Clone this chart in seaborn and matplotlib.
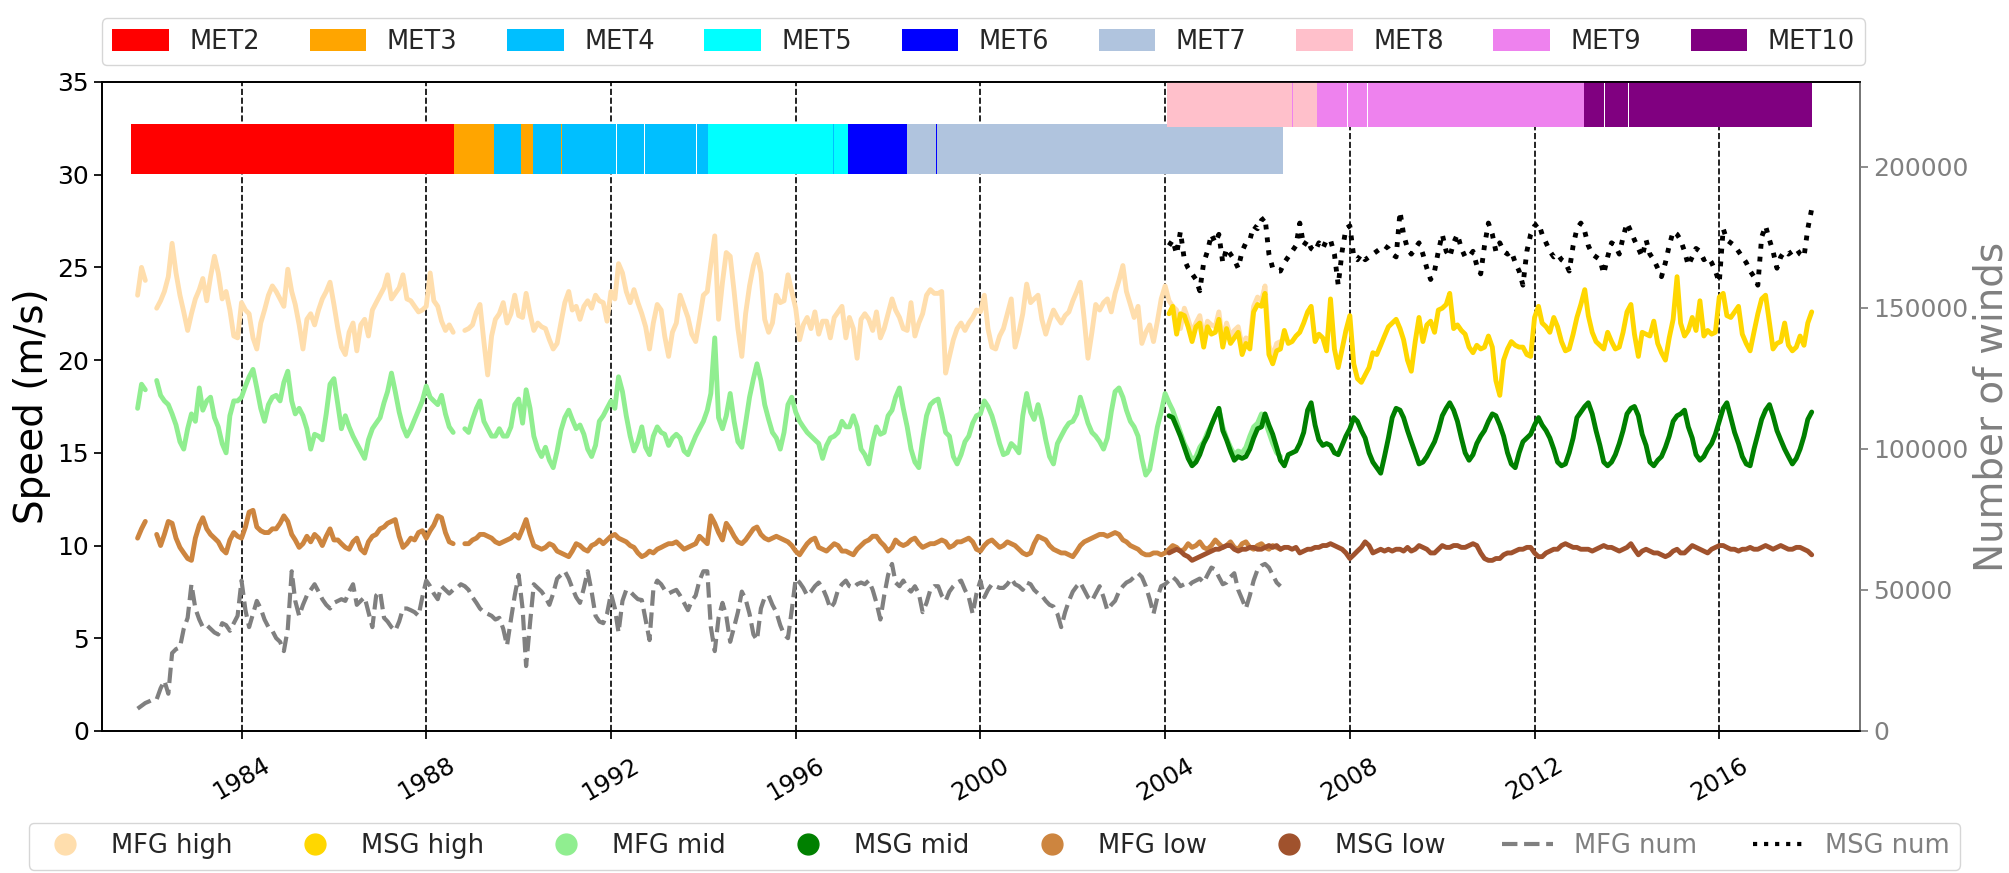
import numpy as np
import pandas as pd
import matplotlib
matplotlib.use("Agg")
import matplotlib.pyplot as plt
import matplotlib.dates as mdates
from matplotlib.patches import Patch
from matplotlib.lines import Line2D
import seaborn as sns

nan = np.nan

# ---------------- data ----------------
# satellite periods (decimal years) and the programme they belong to
sat_names = ["MET2", "MET3", "MET4", "MET3", "MET4", "MET3", "MET4", "MET4", "MET4", "MET4",
             "MET5", "MET4", "MET5", "MET6", "MET7", "MET6", "MET7",
             "MET8", "MET9", "MET8", "MET9", "MET9", "MET9", "MET9", "MET10", "MET10", "MET10"]
sat_start = [1981.61, 1988.61, 1989.47, 1990.06, 1990.30, 1990.91, 1990.93, 1992.14, 1992.73, 1993.87,
             1994.10, 1996.81, 1996.83, 1997.13, 1998.42, 1999.04, 1999.06,
             2004.04, 2006.74, 2006.76, 2007.29, 2007.95, 2008.39, 2009.31, 2013.07, 2013.53, 2014.04]
sat_end = [1988.61, 1989.47, 1990.06, 1990.30, 1990.91, 1990.93, 1992.12, 1992.71, 1993.85, 1994.10,
           1996.81, 1996.83, 1997.13, 1998.42, 1999.04, 1999.06, 2006.55,
           2006.74, 2006.76, 2007.29, 2007.93, 2008.37, 2009.29, 2013.07, 2013.51, 2014.02, 2018.00]
sat_prog = ["MFG"] * 17 + ["MSG"] * 10

# monthly series, MFG from Oct 1981, MSG from Feb 2004
mfg_start = "1981-10-01"
msg_start = "2004-02-01"

mfg_high = [23.5, 25.0, 24.3, nan, nan, 22.8, 23.2, 23.7, 24.5, 26.3,
            24.7, 23.5, 22.6, 21.6, 22.5, 23.3, 23.8, 24.4, 23.2, 24.5,
            25.6, 24.7, 23.3, 23.7, 22.7, 21.3, 21.2, 23.1, 22.7, 22.5,
            21.2, 20.6, 22.0, 22.7, 23.5, 24.0, 23.7, 23.3, 22.9, 24.9,
            23.7, 23.0, 21.9, 20.6, 22.2, 22.5, 21.9, 22.7, 23.3, 23.7,
            24.2, 23.0, 21.7, 20.7, 20.3, 21.5, 22.0, 20.5, 21.9, 22.2,
            21.3, 22.7, 23.1, 23.5, 23.9, 24.6, 23.3, 23.6, 23.9, 24.6,
            23.3, 23.2, 22.9, 22.6, 22.7, 22.9, 24.7, 23.2, 22.9, 22.1,
            21.6, 21.9, 21.5, nan, nan, 21.6, 21.7, 21.9, 22.6, 23.0,
            21.0, 19.2, 21.3, 22.2, 22.5, 23.1, 22.0, 22.5, 23.5, 22.4,
            22.3, 23.6, 22.5, 21.6, 22.0, 21.8, 21.7, 21.1, 20.6, 20.9,
            22.0, 23.1, 23.7, 22.7, 22.9, 22.2, 22.9, 23.2, 22.8, 23.5,
            23.2, 23.1, 22.1, 23.7, 23.3, 25.2, 24.7, 23.7, 23.1, 23.8,
            23.1, 22.5, 21.8, 20.6, 22.0, 23.0, 22.7, 21.3, 20.2, 21.5,
            22.0, 23.5, 22.9, 22.3, 21.4, 21.0, 22.2, 23.5, 23.7, 25.2,
            26.7, 22.2, 24.2, 25.8, 25.6, 23.7, 21.7, 20.2, 22.5, 24.0,
            25.1, 25.7, 24.7, 22.2, 21.5, 22.0, 23.5, 23.1, 23.2, 24.6,
            23.7, 22.8, 21.1, 21.9, 22.3, 21.7, 22.6, 21.4, 22.1, 22.1,
            21.2, 22.3, 22.6, 22.9, 21.2, 22.3, 21.7, 20.1, 22.2, 22.5,
            22.2, 21.6, 22.6, 21.2, 21.7, 22.5, 23.3, 22.7, 22.3, 21.7,
            21.6, 23.1, 21.3, 22.0, 22.5, 23.5, 23.8, 23.6, 23.6, 23.7,
            19.3, 20.2, 21.1, 21.7, 22.0, 21.6, 22.0, 22.3, 22.7, 22.6,
            23.5, 21.7, 20.7, 20.6, 21.3, 21.7, 22.5, 23.3, 20.7, 21.5,
            22.5, 24.1, 23.1, 23.3, 23.5, 22.2, 21.4, 22.1, 22.7, 22.3,
            22.0, 22.4, 22.6, 23.2, 23.7, 24.2, 22.2, 20.1, 21.5, 23.0,
            22.7, 23.1, 23.3, 22.6, 23.6, 24.3, 25.1, 23.7, 23.0, 22.3,
            22.9, 20.9, 21.5, 21.9, 21.0, 22.1, 23.3, 24.0, 23.2, 22.9,
            22.7, 21.7, 22.8, 22.2, 21.5, 22.0, 22.4, 21.2, 22.1, 21.9,
            21.8, 22.6, 21.0, 22.0, 21.3, 21.6, 21.8, 20.8, 21.2, 21.0,
            22.9, 23.4, 23.2, 24.0, 20.8, 20.2, 20.9, 21.0]

mfg_mid = [17.4, 18.7, 18.4, nan, nan, 18.9, 18.1, 17.8, 17.6, 17.1,
           16.5, 15.6, 15.2, 16.3, 17.1, 16.7, 18.5, 17.3, 17.8, 18.0,
           16.9, 16.4, 15.5, 15.0, 17.0, 17.8, 17.8, 18.0, 18.6, 19.1,
           19.5, 18.5, 17.4, 16.7, 17.6, 18.0, 18.1, 17.8, 18.8, 19.4,
           17.8, 17.1, 17.4, 17.0, 16.3, 15.2, 16.0, 15.9, 15.7, 17.1,
           18.7, 19.0, 17.6, 16.3, 17.0, 16.4, 15.9, 15.5, 15.1, 14.7,
           15.7, 16.3, 16.6, 16.9, 17.7, 18.3, 19.3, 18.3, 17.2, 16.4,
           15.9, 16.3, 16.8, 17.3, 17.8, 18.6, 18.0, 17.8, 17.6, 18.1,
           17.1, 16.4, 16.1, nan, nan, 16.3, 16.1, 16.8, 17.4, 17.8,
           16.7, 16.3, 15.9, 15.9, 16.3, 15.9, 15.9, 16.4, 17.6, 17.9,
           16.6, 18.4, 17.4, 15.9, 15.2, 14.8, 15.3, 14.6, 14.2, 15.1,
           16.2, 16.9, 17.3, 16.8, 16.3, 16.5, 16.0, 15.2, 14.8, 15.4,
           16.7, 17.0, 17.4, 17.8, 17.4, 19.1, 18.3, 17.0, 15.9, 15.1,
           15.6, 16.4, 15.3, 14.9, 15.9, 16.4, 16.1, 16.0, 15.4, 15.8,
           16.0, 15.8, 15.1, 14.9, 15.4, 15.9, 16.3, 16.7, 17.3, 18.2,
           21.2, 16.9, 16.3, 17.0, 18.2, 16.7, 15.6, 15.3, 16.6, 18.0,
           19.0, 19.8, 18.9, 17.6, 16.8, 16.1, 15.8, 15.2, 16.1, 17.6,
           18.0, 17.2, 16.7, 16.4, 16.1, 15.9, 15.7, 15.5, 14.7, 15.4,
           15.8, 15.9, 16.1, 16.7, 16.4, 16.4, 17.0, 16.4, 15.2, 14.9,
           14.4, 15.6, 16.4, 16.0, 16.1, 17.0, 17.3, 18.0, 18.5, 17.4,
           16.4, 15.2, 14.5, 14.2, 15.7, 17.0, 17.6, 17.8, 17.9, 17.1,
           16.1, 15.9, 14.8, 14.4, 14.9, 15.6, 15.9, 16.6, 17.0, 17.1,
           17.8, 17.5, 17.0, 16.3, 15.5, 14.9, 15.0, 15.5, 15.3, 15.0,
           17.0, 18.2, 17.2, 16.8, 17.6, 16.8, 15.7, 14.8, 14.4, 15.5,
           15.9, 16.3, 16.6, 16.7, 17.1, 18.0, 17.3, 16.6, 16.1, 15.9,
           15.6, 15.2, 15.8, 17.2, 18.3, 18.5, 18.0, 17.3, 16.7, 16.4,
           15.9, 14.7, 13.8, 14.1, 15.2, 16.4, 17.2, 18.2, 17.7, 17.3,
           16.7, 16.1, 15.5, 15.1, 14.6, 14.8, 15.3, 15.6, 16.1, 16.5,
           17.0, 17.4, 16.4, 15.8, 15.3, 14.9, 15.1, 15.0, 15.3, 15.9,
           16.4, 16.6, 17.1, 16.7, 16.1, 15.5, 15.0, 14.8]

mfg_low = [10.4, 10.9, 11.3, nan, nan, 10.6, 10.0, 10.6, 11.3, 11.2,
           10.4, 9.9, 9.6, 9.3, 9.2, 10.4, 11.1, 11.5, 10.9, 10.6,
           10.4, 10.2, 9.8, 9.6, 10.3, 10.7, 10.5, 10.4, 11.0, 11.8,
           11.9, 11.0, 10.8, 10.7, 10.7, 10.9, 10.9, 11.2, 11.6, 11.3,
           10.6, 10.3, 9.9, 10.1, 10.5, 10.2, 10.6, 10.4, 10.0, 10.5,
           10.9, 10.3, 10.3, 10.1, 9.9, 9.8, 10.2, 10.4, 9.8, 9.6,
           10.2, 10.5, 10.6, 10.9, 11.0, 11.2, 11.3, 11.4, 10.5, 9.9,
           10.1, 10.4, 10.3, 10.7, 10.8, 10.4, 10.8, 11.1, 11.6, 11.5,
           10.7, 10.2, 10.1, nan, nan, 10.1, 10.1, 10.3, 10.4, 10.6,
           10.6, 10.5, 10.4, 10.2, 10.1, 10.2, 10.3, 10.4, 10.6, 10.4,
           10.9, 11.4, 10.6, 10.0, 9.9, 9.8, 9.9, 10.1, 10.0, 9.7,
           9.6, 9.5, 9.4, 9.7, 10.1, 10.0, 9.8, 9.7, 10.0, 10.1,
           10.3, 10.1, 10.3, 10.5, 10.6, 10.4, 10.3, 10.2, 10.0, 9.9,
           9.6, 9.4, 9.5, 9.7, 9.6, 9.8, 9.9, 10.0, 10.1, 10.1,
           10.2, 10.0, 9.8, 9.9, 10.0, 10.1, 10.5, 10.3, 10.1, 11.6,
           11.2, 10.7, 10.3, 11.2, 10.9, 10.5, 10.2, 10.1, 10.3, 10.6,
           10.9, 11.0, 10.6, 10.4, 10.3, 10.4, 10.5, 10.4, 10.3, 10.2,
           10.0, 9.7, 9.5, 9.8, 10.1, 10.3, 10.4, 9.9, 9.8, 9.7,
           9.9, 10.1, 10.0, 9.7, 9.7, 9.6, 9.5, 9.8, 10.0, 10.2,
           10.3, 10.5, 10.5, 10.2, 10.0, 9.7, 9.9, 10.3, 10.1, 10.0,
           10.1, 10.3, 10.4, 10.1, 9.9, 10.0, 10.1, 10.1, 10.2, 10.3,
           10.2, 9.9, 10.0, 10.2, 10.2, 10.3, 10.4, 10.2, 9.8, 9.7,
           10.0, 10.2, 10.3, 10.1, 9.9, 10.0, 10.2, 10.1, 10.0, 9.8,
           9.6, 9.5, 9.6, 10.1, 10.5, 10.4, 10.3, 10.0, 9.8, 9.7,
           9.6, 9.6, 9.5, 9.4, 9.7, 10.0, 10.2, 10.3, 10.4, 10.5,
           10.6, 10.6, 10.5, 10.6, 10.7, 10.6, 10.3, 10.2, 10.0, 9.9,
           9.8, 9.6, 9.5, 9.5, 9.6, 9.6, 9.5, 9.6, 9.8, 10.0,
           9.9, 9.7, 9.8, 10.1, 9.9, 10.0, 10.2, 9.9, 9.8, 10.0,
           10.3, 10.1, 9.9, 10.0, 10.2, 9.9, 9.8, 10.1, 10.2, 9.9,
           9.8, 10.0, 10.1, 9.9, 9.8, 10.0, 9.9, 9.8]

# number of winds, thousands
mfg_num = [7.9, 8.9, 9.9, 10.5, 11.2, 11.2, 15.1, 17.8, 13.2, 27.6,
           29.0, 29.6, 36.2, 40.1, 52.0, 43.4, 39.5, 36.8, 37.5, 36.2,
           34.9, 34.2, 38.2, 37.5, 35.5, 38.2, 40.8, 53.3, 42.8, 36.8,
           41.5, 46.1, 43.4, 39.5, 36.8, 35.5, 32.9, 31.6, 28.3, 36.2,
           56.6, 46.1, 40.8, 44.7, 48.0, 50.0, 52.0, 49.4, 46.7, 44.7,
           43.4, 45.4, 46.1, 46.7, 46.1, 49.4, 52.0, 44.7, 46.1, 47.4,
           42.1, 36.8, 48.0, 49.4, 40.1, 38.8, 36.8, 35.5, 38.8, 43.4,
           43.4, 42.8, 42.1, 40.8, 47.4, 53.3, 51.3, 48.7, 46.7, 51.3,
           50.0, 48.7, 50.0, 50.7, 52.0, 51.3, 50.0, 47.4, 45.4, 43.4,
           42.1, 41.5, 40.8, 39.5, 40.1, 36.2, 30.3, 39.5, 48.0, 55.3,
           43.4, 23.0, 38.2, 52.0, 50.7, 49.4, 47.4, 44.7, 48.7, 54.0,
           55.3, 56.6, 54.0, 50.7, 47.4, 45.4, 50.7, 56.6, 49.4, 40.8,
           38.8, 38.2, 41.5, 48.7, 43.4, 34.9, 46.1, 50.0, 49.4, 48.0,
           46.7, 46.4, 39.5, 32.2, 50.0, 53.3, 52.0, 50.0, 48.7, 49.4,
           50.0, 48.0, 45.4, 42.8, 46.1, 48.0, 53.3, 56.6, 56.6, 36.8,
           28.3, 40.1, 45.4, 40.8, 31.6, 36.8, 42.1, 49.4, 46.7, 41.5,
           34.2, 32.2, 43.4, 47.4, 48.0, 44.7, 42.1, 37.5, 34.2, 32.9,
           42.8, 54.0, 52.6, 50.7, 48.0, 49.4, 51.3, 52.6, 50.7, 47.4,
           43.4, 45.4, 50.0, 52.0, 53.3, 51.3, 50.7, 52.0, 52.6, 52.0,
           53.3, 50.0, 45.4, 39.5, 48.0, 55.3, 59.2, 52.6, 51.3, 53.3,
           50.7, 49.4, 51.3, 48.7, 42.1, 45.4, 50.0, 51.3, 51.3, 48.0,
           46.1, 49.4, 51.3, 52.6, 53.3, 50.0, 47.4, 41.5, 48.7, 53.3,
           47.4, 50.0, 52.0, 51.3, 50.7, 50.7, 52.0, 54.0, 52.0, 51.3,
           50.0, 52.6, 52.0, 50.0, 48.7, 48.0, 46.1, 44.7, 44.1, 41.5,
           36.8, 42.1, 46.1, 49.4, 51.3, 52.6, 50.0, 47.4, 46.1, 48.7,
           51.3, 47.4, 42.8, 44.7, 46.1, 49.4, 51.3, 52.6, 53.3, 54.6,
           55.9, 54.6, 51.3, 46.7, 41.5, 47.4, 51.3, 52.0, 53.3, 54.6,
           53.3, 51.3, 52.0, 51.3, 52.6, 53.3, 54.0, 52.6, 55.3, 57.9,
           57.2, 54.6, 52.0, 52.6, 54.6, 55.9, 50.0, 46.7, 43.4, 48.0,
           53.3, 57.2, 58.6, 59.2, 57.9, 55.3, 52.6, 51.3]

msg_high = [22.5, 22.9, 21.4, 22.5, 22.4, 21.8, 21.0, 21.8, 22.0, 20.7,
            21.8, 21.4, 21.5, 22.2, 20.7, 21.7, 20.9, 21.2, 21.5, 20.3,
            20.9, 20.6, 22.6, 23.0, 22.9, 23.6, 20.3, 19.8, 20.5, 20.6,
            21.6, 20.9, 21.0, 21.3, 21.5, 22.0, 22.6, 22.9, 21.0, 21.4,
            21.2, 20.5, 23.3, 20.6, 19.6, 20.6, 21.6, 22.4, 19.8, 19.0,
            18.8, 19.2, 19.6, 20.4, 20.3, 20.8, 21.3, 21.8, 22.0, 22.2,
            21.7, 21.1, 20.0, 19.4, 21.0, 22.3, 21.0, 21.9, 22.1, 21.5,
            22.7, 22.8, 23.0, 23.6, 21.7, 21.9, 21.6, 21.4, 20.7, 20.4,
            20.8, 20.6, 20.7, 21.3, 20.7, 18.9, 18.1, 20.0, 20.6, 21.0,
            20.8, 20.7, 20.7, 20.3, 20.2, 22.3, 22.9, 22.0, 21.8, 21.5,
            22.3, 21.8, 21.0, 20.5, 20.6, 21.4, 22.3, 23.0, 23.8, 22.4,
            21.5, 21.0, 20.8, 20.6, 21.5, 21.0, 20.6, 20.7, 21.5, 22.6,
            23.0, 21.4, 20.2, 21.5, 21.4, 21.3, 22.1, 20.9, 20.4, 20.0,
            21.2, 22.2, 24.5, 22.0, 21.3, 21.6, 22.3, 21.6, 23.2, 21.3,
            21.6, 21.4, 21.5, 23.4, 23.6, 22.4, 22.3, 22.6, 22.9, 21.4,
            20.9, 20.5, 21.5, 22.5, 23.3, 23.5, 22.0, 20.6, 20.9, 21.0,
            22.0, 20.8, 20.5, 20.7, 21.3, 20.8, 22.0, 22.6]

msg_mid = [17.0, 16.9, 16.4, 15.9, 15.3, 14.7, 14.3, 14.5, 14.9, 15.5,
           15.9, 16.5, 17.0, 17.4, 16.2, 15.7, 15.1, 14.6, 14.8, 14.7,
           14.8, 15.2, 15.8, 16.3, 16.4, 17.1, 16.5, 16.0, 15.3, 14.6,
           14.3, 14.9, 15.0, 15.1, 15.5, 16.1, 17.3, 17.7, 16.5, 15.7,
           15.4, 15.5, 15.4, 15.0, 14.9, 15.4, 15.9, 16.3, 16.9, 16.7,
           16.2, 15.8, 15.0, 14.5, 14.2, 13.9, 14.8, 15.8, 16.9, 17.4,
           17.3, 16.9, 16.2, 15.6, 15.0, 14.4, 14.5, 14.8, 15.2, 15.6,
           16.2, 17.0, 17.4, 17.7, 17.3, 16.7, 15.8, 15.0, 14.6, 14.9,
           15.5, 15.9, 16.2, 16.7, 17.1, 17.0, 16.5, 15.9, 15.0, 14.4,
           14.2, 15.0, 15.6, 15.8, 16.0, 16.5, 16.9, 16.5, 16.2, 15.8,
           15.2, 14.5, 14.3, 14.4, 15.0, 15.8, 16.9, 17.2, 17.5, 17.7,
           17.1, 16.2, 15.4, 14.5, 14.3, 14.5, 14.9, 15.5, 16.2, 17.1,
           17.4, 17.5, 17.0, 16.0, 15.4, 14.5, 14.3, 14.6, 14.8, 15.3,
           15.9, 16.7, 17.0, 17.1, 17.3, 16.4, 15.8, 14.9, 14.6, 14.8,
           15.2, 15.5, 16.0, 16.7, 17.4, 17.7, 16.9, 16.1, 15.5, 14.8,
           14.4, 14.3, 15.2, 16.0, 16.8, 17.3, 17.6, 17.0, 16.2, 15.7,
           15.2, 14.8, 14.4, 14.7, 15.2, 15.9, 16.8, 17.2]

msg_low = [9.6, 9.7, 9.8, 9.7, 9.5, 9.4, 9.2, 9.3, 9.4, 9.5,
           9.6, 9.7, 9.8, 9.8, 9.9, 10.0, 10.0, 9.8, 9.7, 9.8,
           9.8, 9.9, 9.9, 9.8, 9.8, 9.9, 10.0, 9.9, 10.0, 9.8,
           9.9, 9.9, 9.8, 9.9, 9.6, 9.7, 9.8, 9.8, 9.9, 9.9,
           10.0, 10.0, 10.1, 10.0, 9.9, 9.8, 9.6, 9.3, 9.5, 9.7,
           9.9, 10.2, 10.0, 9.6, 9.7, 9.8, 9.7, 9.8, 9.7, 9.8,
           9.8, 9.7, 9.9, 9.7, 9.8, 10.0, 9.9, 9.8, 9.6, 9.6,
           9.8, 10.0, 9.9, 9.9, 10.0, 10.0, 9.9, 9.9, 10.0, 10.1,
           10.0, 9.6, 9.3, 9.2, 9.2, 9.3, 9.3, 9.5, 9.6, 9.6,
           9.7, 9.8, 9.8, 9.9, 9.9, 9.6, 9.4, 9.4, 9.6, 9.7,
           9.8, 9.8, 10.0, 10.1, 10.0, 9.9, 9.9, 9.8, 9.8, 9.8,
           9.7, 9.8, 9.9, 10.0, 9.9, 9.9, 9.8, 9.7, 9.8, 9.9,
           10.1, 9.8, 9.5, 9.7, 9.8, 9.7, 9.6, 9.6, 9.5, 9.4,
           9.5, 9.7, 9.8, 9.6, 9.6, 9.8, 10.0, 9.9, 9.8, 9.7,
           9.6, 9.8, 9.9, 10.0, 10.0, 9.9, 9.8, 9.8, 9.7, 9.8,
           9.8, 9.9, 9.8, 9.8, 9.9, 10.0, 9.9, 9.8, 9.9, 10.0,
           9.9, 9.8, 9.8, 9.9, 9.9, 9.8, 9.7, 9.5]

# thousands
msg_num = [172, 174, 169, 177, 167, 164, 162, 160, 156, 166,
           170, 176, 173, 176, 166, 171, 169, 167, 164, 170,
           173, 174, 179, 178, 181, 182, 169, 164, 163, 163,
           166, 168, 170, 172, 180, 172, 174, 171, 170, 173,
           171, 174, 174, 169, 158, 170, 178, 179, 168, 167,
           169, 167, 168, 169, 170, 171, 172, 171, 169, 168,
           184, 176, 171, 169, 171, 173, 169, 164, 160, 163,
           170, 176, 170, 168, 173, 176, 171, 168, 168, 170,
           165, 162, 172, 180, 176, 170, 173, 170, 169, 170,
           166, 163, 158, 170, 176, 179, 180, 176, 173, 170,
           168, 169, 167, 166, 163, 172, 178, 180, 177, 172,
           169, 168, 167, 162, 168, 173, 172, 169, 175, 180,
           177, 174, 171, 168, 174, 169, 167, 164, 161, 166,
           172, 177, 176, 174, 170, 165, 168, 171, 170, 167,
           168, 166, 163, 159, 178, 174, 173, 172, 170, 168,
           166, 163, 161, 158, 175, 179, 174, 170, 164, 168,
           170, 169, 170, 171, 169, 168, 178, 185]

# ---------------- styling ----------------
sat_colors = {"MET2": "red", "MET3": "orange", "MET4": "deepskyblue", "MET5": "cyan",
              "MET6": "blue", "MET7": "lightsteelblue", "MET8": "pink", "MET9": "violet",
              "MET10": "purple"}

sns.set_theme(style="ticks")
plt.rcParams["font.family"] = ["DejaVu Sans"]

fig = plt.figure(figsize=(20.09, 8.73), dpi=100)
ax1 = fig.add_axes([0.0508, 0.1627, 0.8751, 0.7434])
ax2 = ax1.twinx()


def year_to_date(y):
    yr = int(y)
    return pd.Timestamp(yr, 1, 1) + pd.Timedelta(days=(y - yr) * 365.25)


def draw(ax, start, values, scale=1.0, **kw):
    d = pd.DataFrame({"date": pd.date_range(start, periods=len(values), freq="MS"),
                      "v": np.array(values, dtype=float) * scale})
    d["seg"] = d["v"].isna().cumsum()
    d = d.dropna()
    sns.lineplot(data=d, x="date", y="v", units="seg", estimator=None,
                 ax=ax, legend=False, **kw)


# speed series
draw(ax1, mfg_start, mfg_high, color="navajowhite", lw=3.5)
draw(ax1, mfg_start, mfg_mid, color="lightgreen", lw=3.5)
draw(ax1, mfg_start, mfg_low, color="peru", lw=3.5)
draw(ax1, msg_start, msg_high, color="gold", lw=3.5)
draw(ax1, msg_start, msg_mid, color="green", lw=3.5)
draw(ax1, msg_start, msg_low, color="sienna", lw=3.5)

# counts
draw(ax2, mfg_start, mfg_num, scale=1000, color="gray", lw=3, linestyle="--")
draw(ax2, msg_start, msg_num, scale=1000, color="black", lw=3.5, linestyle=":")

# satellite bars
row_y = {"MFG": 31.375, "MSG": 33.9}
for name, s, e, p in zip(sat_names, sat_start, sat_end, sat_prog):
    left = mdates.date2num(year_to_date(s))
    right = mdates.date2num(year_to_date(e))
    ax1.barh(row_y[p], right - left, left=left, height=2.7,
             color=sat_colors[name], linewidth=0, zorder=3)

ax1.set_xlim(pd.Timestamp("1980-12-24"), pd.Timestamp("2019-01-19"))
ax1.set_ylim(0, 35)
ax2.set_ylim(0, 230000)
ax1.set_yticks(range(0, 36, 5))
ax2.set_yticks(range(0, 200001, 50000))

ax1.xaxis.set_major_locator(mdates.YearLocator(4))
ax1.xaxis.set_major_formatter(mdates.DateFormatter("%Y"))
ax1.grid(axis="x", color="black", linestyle="--", linewidth=1.2)

ax1.set_xlabel("")
ax2.set_xlabel("")
ax1.set_ylabel("Speed (m/s)", fontsize=28, color="black")
ax2.set_ylabel("Number of winds", fontsize=28, color="gray", labelpad=3)

ax1.tick_params(axis="both", labelsize=18, length=6, colors="black")
ax1.tick_params(axis="x", labelsize=17.5, pad=10)
ax2.tick_params(axis="y", labelsize=18, length=6, colors="gray")
plt.setp(ax1.get_xticklabels(), rotation=30, ha="center")
ax2.spines["right"].set_color("gray")
for sp in ["left", "bottom", "top"]:
    ax1.spines[sp].set_color("black")
    ax2.spines[sp].set_color("black")

# legends
met_order = ["MET2", "MET3", "MET4", "MET5", "MET6", "MET7", "MET8", "MET9", "MET10"]
met_handles = [Patch(facecolor=sat_colors[m], edgecolor="none", label=m) for m in met_order]
fig.legend(handles=met_handles, loc="lower left", bbox_to_anchor=(0.0508, 0.9255, 0.8776, 0.06),
           mode="expand", ncol=9, fontsize=18.5, handlelength=2.2, handleheight=0.9,
           borderaxespad=0)

ser_handles = [
    Line2D([], [], ls="", marker="o", ms=15, color="navajowhite", label="MFG high"),
    Line2D([], [], ls="", marker="o", ms=15, color="gold", label="MSG high"),
    Line2D([], [], ls="", marker="o", ms=15, color="lightgreen", label="MFG mid"),
    Line2D([], [], ls="", marker="o", ms=15, color="green", label="MSG mid"),
    Line2D([], [], ls="", marker="o", ms=15, color="peru", label="MFG low"),
    Line2D([], [], ls="", marker="o", ms=15, color="sienna", label="MSG low"),
    Line2D([], [], ls="--", lw=3, color="gray", label="MFG num"),
    Line2D([], [], ls=":", lw=3, color="black", label="MSG num"),
]
leg = fig.legend(handles=ser_handles, loc="upper left", bbox_to_anchor=(0.0144, 0.0, 0.9612, 0.0573),
                 mode="expand", ncol=8, fontsize=18.5, handlelength=2.0, borderaxespad=0)
for t in leg.get_texts()[6:]:
    t.set_color("gray")

fig.savefig("out.png", dpi=100)
